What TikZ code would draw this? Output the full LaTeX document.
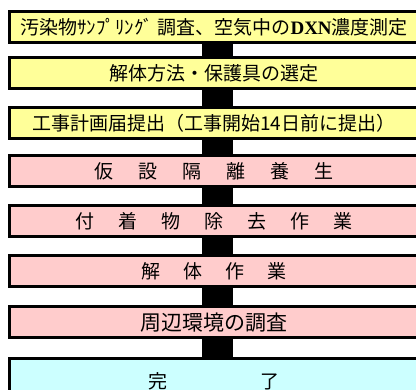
\documentclass[tikz,border=0pt]{standalone}
\usepackage{fontspec}
\newfontfamily\jp{Noto Sans CJK JP}
\newfontfamily\tms{Liberation Serif}
\definecolor{boxyellow}{HTML}{FFFF99}
\definecolor{boxpink}{HTML}{FFCCCC}
\definecolor{boxcyan}{HTML}{CCFFFF}
\newcommand{\gp}[1]{\hspace{#1pt}}
\begin{document}
\begin{tikzpicture}[x=1pt,y=-1pt,
  stepbox/.style={draw=black, line width=3pt, rectangle, minimum width=409pt,
    minimum height=31pt, inner sep=0pt, font=\jp\fontsize{19}{19}\selectfont, anchor=north},
  ybox/.style={stepbox, fill=boxyellow},
  pbox/.style={stepbox, fill=boxpink},
  cbox/.style={stepbox, fill=boxcyan},
  bar/.style={line width=31pt, draw=black}]
\useasboundingbox (0,0) rectangle (416,390);
\clip (0,0) rectangle (416,390);
\fill[white] (0,0) rectangle (416,390);
\node[ybox] (b1) at (214,10.5) {汚染物ｻﾝﾌﾟﾘﾝｸﾞ 調査、空気中の{\tms\bfseries DXN}濃度測定};
\node[ybox] (b2) at (214,56.5) {解体方法・保護具の選定};
\node[ybox] (b3) at (214,106.5) {工事計画届提出（工事開始14日前に提出）};
\node[pbox] (b4) at (214,154.5) {仮\gp{25}設\gp{25}隔\gp{25}離\gp{25}養\gp{25}生};
\node[pbox] (b5) at (214,204.5) {付\gp{24}着\gp{24}物\gp{24}除\gp{24}去\gp{24}作\gp{24}業};
\node[pbox] (b6) at (214,254.5) {解\gp{23}体\gp{23}作\gp{23}業};
\node[pbox, font=\jp\fontsize{21}{21}\selectfont] (b7) at (214,305.5) {周辺環境の調査};
\node[cbox, minimum height=45pt] (b8) at (214,357.5) {完\gp{94}了};
\foreach \a/\b in {b1/b2,b2/b3,b3/b4,b4/b5,b5/b6,b6/b7,b7/b8}
  \draw[bar] ([xshift=3.5pt]\a.south) -- ([xshift=3.5pt]\b.north);
\end{tikzpicture}
\end{document}
